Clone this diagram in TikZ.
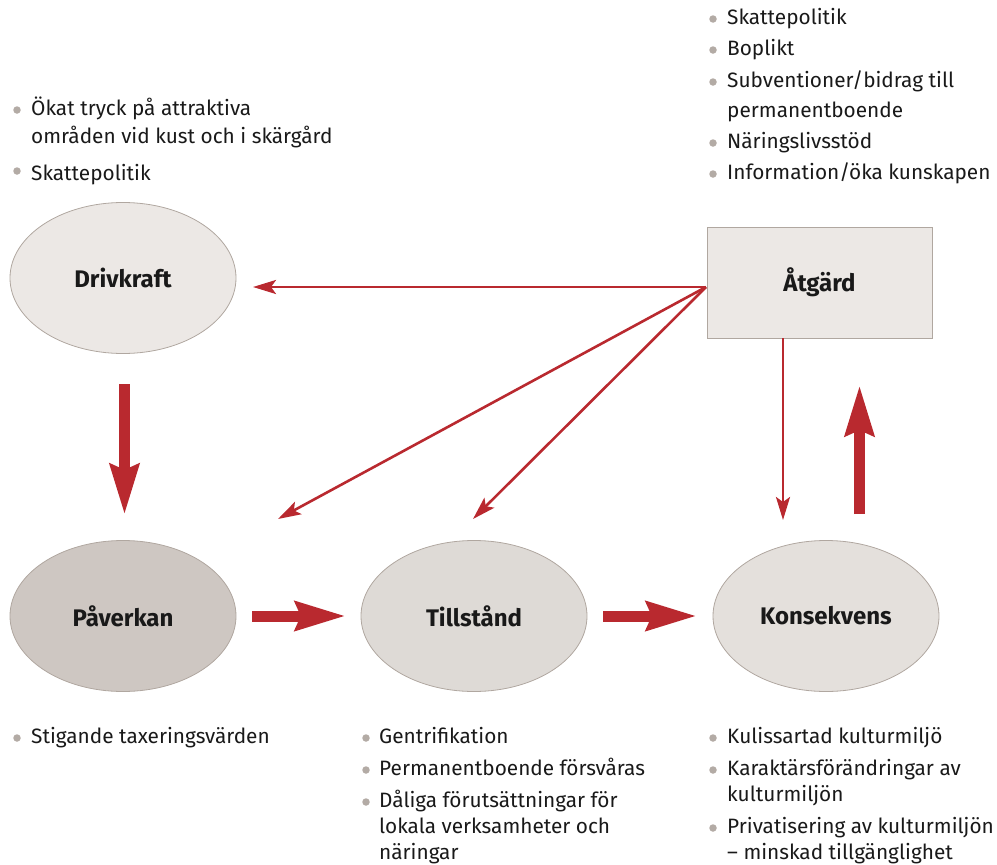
\documentclass[tikz,border=0pt]{standalone}
\usepackage{fontspec}
\setmainfont{Fira Sans}
\usetikzlibrary{shapes.geometric,arrows.meta}
\definecolor{rd}{HTML}{B9292F}
\definecolor{bord}{HTML}{B0A7A0}
\definecolor{bul}{HTML}{B3ABA5}
\definecolor{fillA}{HTML}{ECE8E5}
\definecolor{fillB}{HTML}{CEC7C2}
\definecolor{fillC}{HTML}{DEDAD6}
\definecolor{fillD}{HTML}{E4E0DC}
\tikzset{
  ell/.style={ellipse, draw=bord, line width=0.8pt, minimum width=226pt, minimum height=151pt, inner sep=0pt,
    font=\fontsize{24}{28}\selectfont\bfseries, text=black!90},
  boxx/.style={rectangle, draw=bord, line width=1pt, fill=fillA, minimum width=225pt, minimum height=111pt,
    font=\fontsize{24}{28}\selectfont\bfseries, text=black!90},
  txt/.style={anchor=base west, inner sep=0pt, font=\fontsize{20.8}{24}\selectfont, text=black!90},
  bullet/.style={circle, fill=bul, inner sep=0pt, minimum size=7.5pt},
  thick arrow/.style={draw=rd, line width=11pt, -{Stealth[length=50pt, width=28pt, inset=5pt]}},
  thin arrow/.style={draw=rd, line width=2.6pt, -{Stealth[length=23pt, width=14pt, inset=5pt]}},
}
\begin{document}
\begin{tikzpicture}[x=1pt,y=-1pt]
\useasboundingbox (0,0) rectangle (997,865);
% main nodes
\node[ell, fill=fillA] (drv) at (123,278) {Drivkraft};
\node[ell, fill=fillB] (pav) at (123,616) {Påverkan};
\node[ell, fill=fillC] (til) at (474,616) {Tillstånd};
\node[ell, fill=fillD] (kon) at (826,616) {Konsekvens};
\node[boxx] (atg) at (819.5,282.5) {Åtgärd};
% free ends
\coordinate (src) at (706,287);
\coordinate (e1) at (253,287);
\coordinate (e2) at (278,519);
\coordinate (e3) at (473,519);
\coordinate (d1) at (124.5,384);
\coordinate (d2) at (124.5,515);
\coordinate (u1) at (859.5,514);
\coordinate (u2) at (859.5,385);
\coordinate (h1a) at (252,616);
\coordinate (h1b) at (346,616);
\coordinate (h2a) at (603,616);
\coordinate (h2b) at (697,616);
\coordinate (v1) at (783,338);
\coordinate (v2) at (783,520);
% thick arrows
\draw[thick arrow] (d1) -- (d2);
\draw[thick arrow] (h1a) -- (h1b);
\draw[thick arrow] (h2a) -- (h2b);
\draw[thick arrow] (u1) -- (u2);
% thin arrows
\draw[thin arrow] (src) -- (e1);
\draw[thin arrow] (src) -- (e2);
\draw[thin arrow] (src) -- (e3);
\draw[thin arrow] (v1) -- (v2);
% top-left text
\node[bullet] (b1) at (17,110) {};
\node[txt] (t1a) at (31,115) {Ökat tryck på attraktiva};
\node[txt] (t1b) at (31,143) {områden vid kust och i skärgård};
\node[bullet] (b2) at (17,171) {};
\node[txt] (t2) at (31,180) {Skattepolitik};
% top-right text
\node[bullet] (b3) at (713,19) {};
\node[txt] (t3) at (727,24) {Skattepolitik};
\node[bullet] (b4) at (713,50) {};
\node[txt] (t4) at (727,55) {Boplikt};
\node[bullet] (b5) at (713,82) {};
\node[txt] (t5a) at (727,87) {Subventioner/bidrag till};
\node[txt] (t5b) at (727,117) {permanentboende};
\node[bullet] (b6) at (713,143) {};
\node[txt] (t6) at (727,148) {Näringslivsstöd};
\node[bullet] (b7) at (713,174) {};
\node[txt] (t7) at (727,179) {Information/öka kunskapen};
% bottom-left
\node[bullet] (b8) at (17,738) {};
\node[txt] (t8) at (31,743) {Stigande taxeringsvärden};
% bottom-middle
\node[bullet] (b9) at (366,738) {};
\node[txt] (t9) at (379,743) {Gentrifikation};
\node[bullet] (b10) at (366,770) {};
\node[txt] (t10) at (379,775) {Permanentboende försvåras};
\node[bullet] (b11) at (366,802) {};
\node[txt] (t11a) at (379,807) {Dåliga förutsättningar för};
\node[txt] (t11b) at (379,833) {lokala verksamheter och};
\node[txt] (t11c) at (379,859) {näringar};
% bottom-right
\node[bullet] (b12) at (713,738) {};
\node[txt] (t12) at (727,743) {Kulissartad kulturmiljö};
\node[bullet] (b13) at (713,770) {};
\node[txt] (t13a) at (727,775) {Karaktärsförändringar av};
\node[txt] (t13b) at (727,801) {kulturmiljön};
\node[bullet] (b14) at (713,828) {};
\node[txt] (t14a) at (727,833) {Privatisering av kulturmiljön};
\node[txt] (t14b) at (727,859) {– minskad tillgänglighet};
\end{tikzpicture}
\end{document}
